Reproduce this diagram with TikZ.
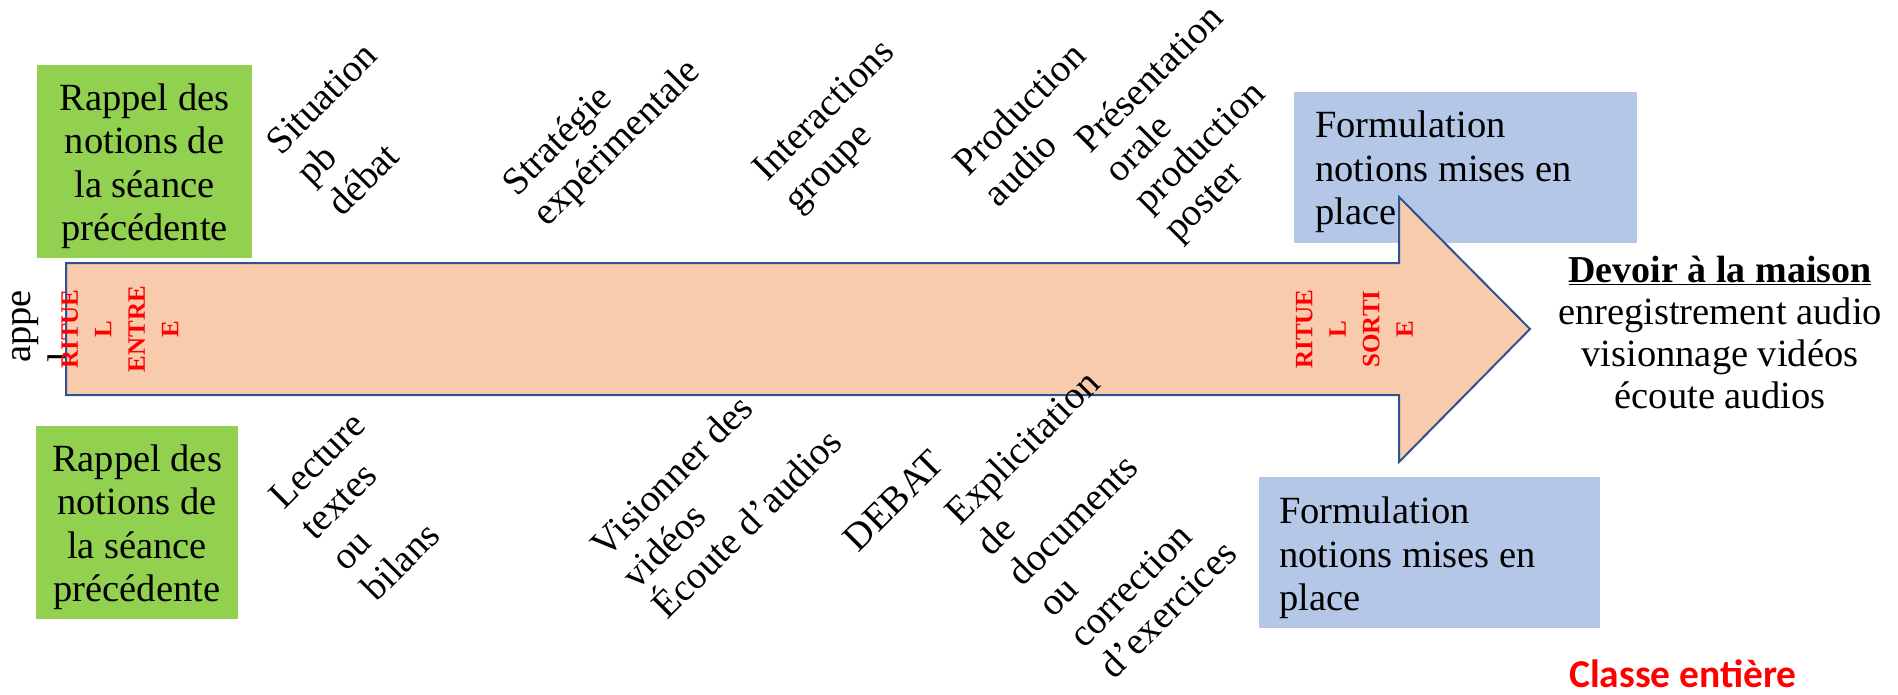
\documentclass[tikz,border=0pt]{standalone}
\usepackage{fontspec}
\setmainfont{Liberation Serif}
\newfontfamily\calibfont{Carlito}
\definecolor{peach}{HTML}{F8CBAD}
\definecolor{arrowline}{HTML}{2F528F}
\definecolor{leaf}{HTML}{92D050}
\definecolor{sky}{HTML}{B4C7E7}
\definecolor{rouge}{HTML}{FF0000}
\begin{document}
\begin{tikzpicture}[x=1pt,y=-1pt,
  txt/.style={inner sep=0pt, font=\fontsize{38.5}{43.5}\selectfont},
  diag/.style={txt, rotate=45, anchor=north west, align=left},
  ritual/.style={inner sep=0pt, font=\bfseries\fontsize{25}{33.5}\selectfont, text=rouge, rotate=90, align=center},
  greenbox/.style={fill=leaf, inner sep=0pt, anchor=north west},
  bluebox/.style={fill=sky, inner sep=0pt, anchor=north west},
  bigarrow/.style={draw=arrowline, fill=peach, line width=2pt, line join=miter}
]
\fill[white] (0,0) rectangle (1898,694);
\useasboundingbox (0,0) rectangle (1898,694);

% green boxes
\node[greenbox, minimum width=215, minimum height=193] (g1) at (37,65) {};
\node[txt, align=center] (rappel1) at (144.5,166.3) {Rappel des\\notions de\\la séance\\précédente};
\node[greenbox, minimum width=202, minimum height=193] (g2) at (36,426) {};
\node[txt, align=center] (rappel2) at (137,527.3) {Rappel des\\notions de\\la séance\\précédente};

% blue boxes
\node[bluebox, minimum width=343, minimum height=151] (b1) at (1294,92) {};
\node[txt, align=left, anchor=north west] (form1) at (1315,110.7) {Formulation\\notions mises en\\place};
\node[bluebox, minimum width=341, minimum height=151] (b2) at (1259,477) {};
\node[txt, align=left, anchor=north west] (form2) at (1279,496.7) {Formulation\\notions mises en\\place};

% appel (behind arrow)
\node[txt, rotate=90, anchor=north west, align=left] (appel) at (12.5,363) {appe\\l};

% big arrow
\draw[bigarrow] (66,263) -- (1399,263) -- (1399,197) -- (1530,329) -- (1399,462) -- (1399,395) -- (66,395) -- cycle;

% rituals
\node[ritual] (entree) at (120,329) {RITUE\\L\\ENTRE\\E};
\node[ritual] (sortie) at (1354.5,329) {RITUE\\L\\SORTI\\E};

% diagonal labels, top
\node[diag] (sit) at (262.7,138.1) {Situation\\pb\\débat};
\node[diag] (strat) at (497.8,178.1) {Stratégie\\expérimentale};
\node[diag] (inter) at (749,164.5) {Interactions\\groupe};
\node[diag] (prod) at (949,158.5) {Production\\audio};
\node[diag, font=\fontsize{38.5}{41.5}\selectfont] (pres) at (1071,136) {Présentation\\orale\\production\\poster};

% diagonal labels, bottom
\node[diag] (lect) at (266.5,492.7) {Lecture\\textes\\ou\\bilans};
\node[diag] (vis) at (587.3,540.5) {Visionner des\\vidéos\\Écoute d’audios};
\node[diag] (debat) at (840.4,535.4) {DEBAT};
\node[diag] (expl) at (941.8,507.5) {Explicitation\\de\\documents\\ou\\correction\\d’exercices};

% homework
\node[txt, align=center, anchor=north, font=\fontsize{38.5}{42}\selectfont] (devoir) at (1720,256)
  {{\bfseries\fontsize{38}{42}\selectfont\underline{Devoir à la maison}}\\enregistrement audio\\visionnage vidéos\\écoute audios};

% classe entiere
\node[inner sep=0pt, anchor=base, text=rouge, font=\calibfont\bfseries\fontsize{39.5}{45}\selectfont] (classe) at (1683,687) {Classe entière};
\end{tikzpicture}
\end{document}
